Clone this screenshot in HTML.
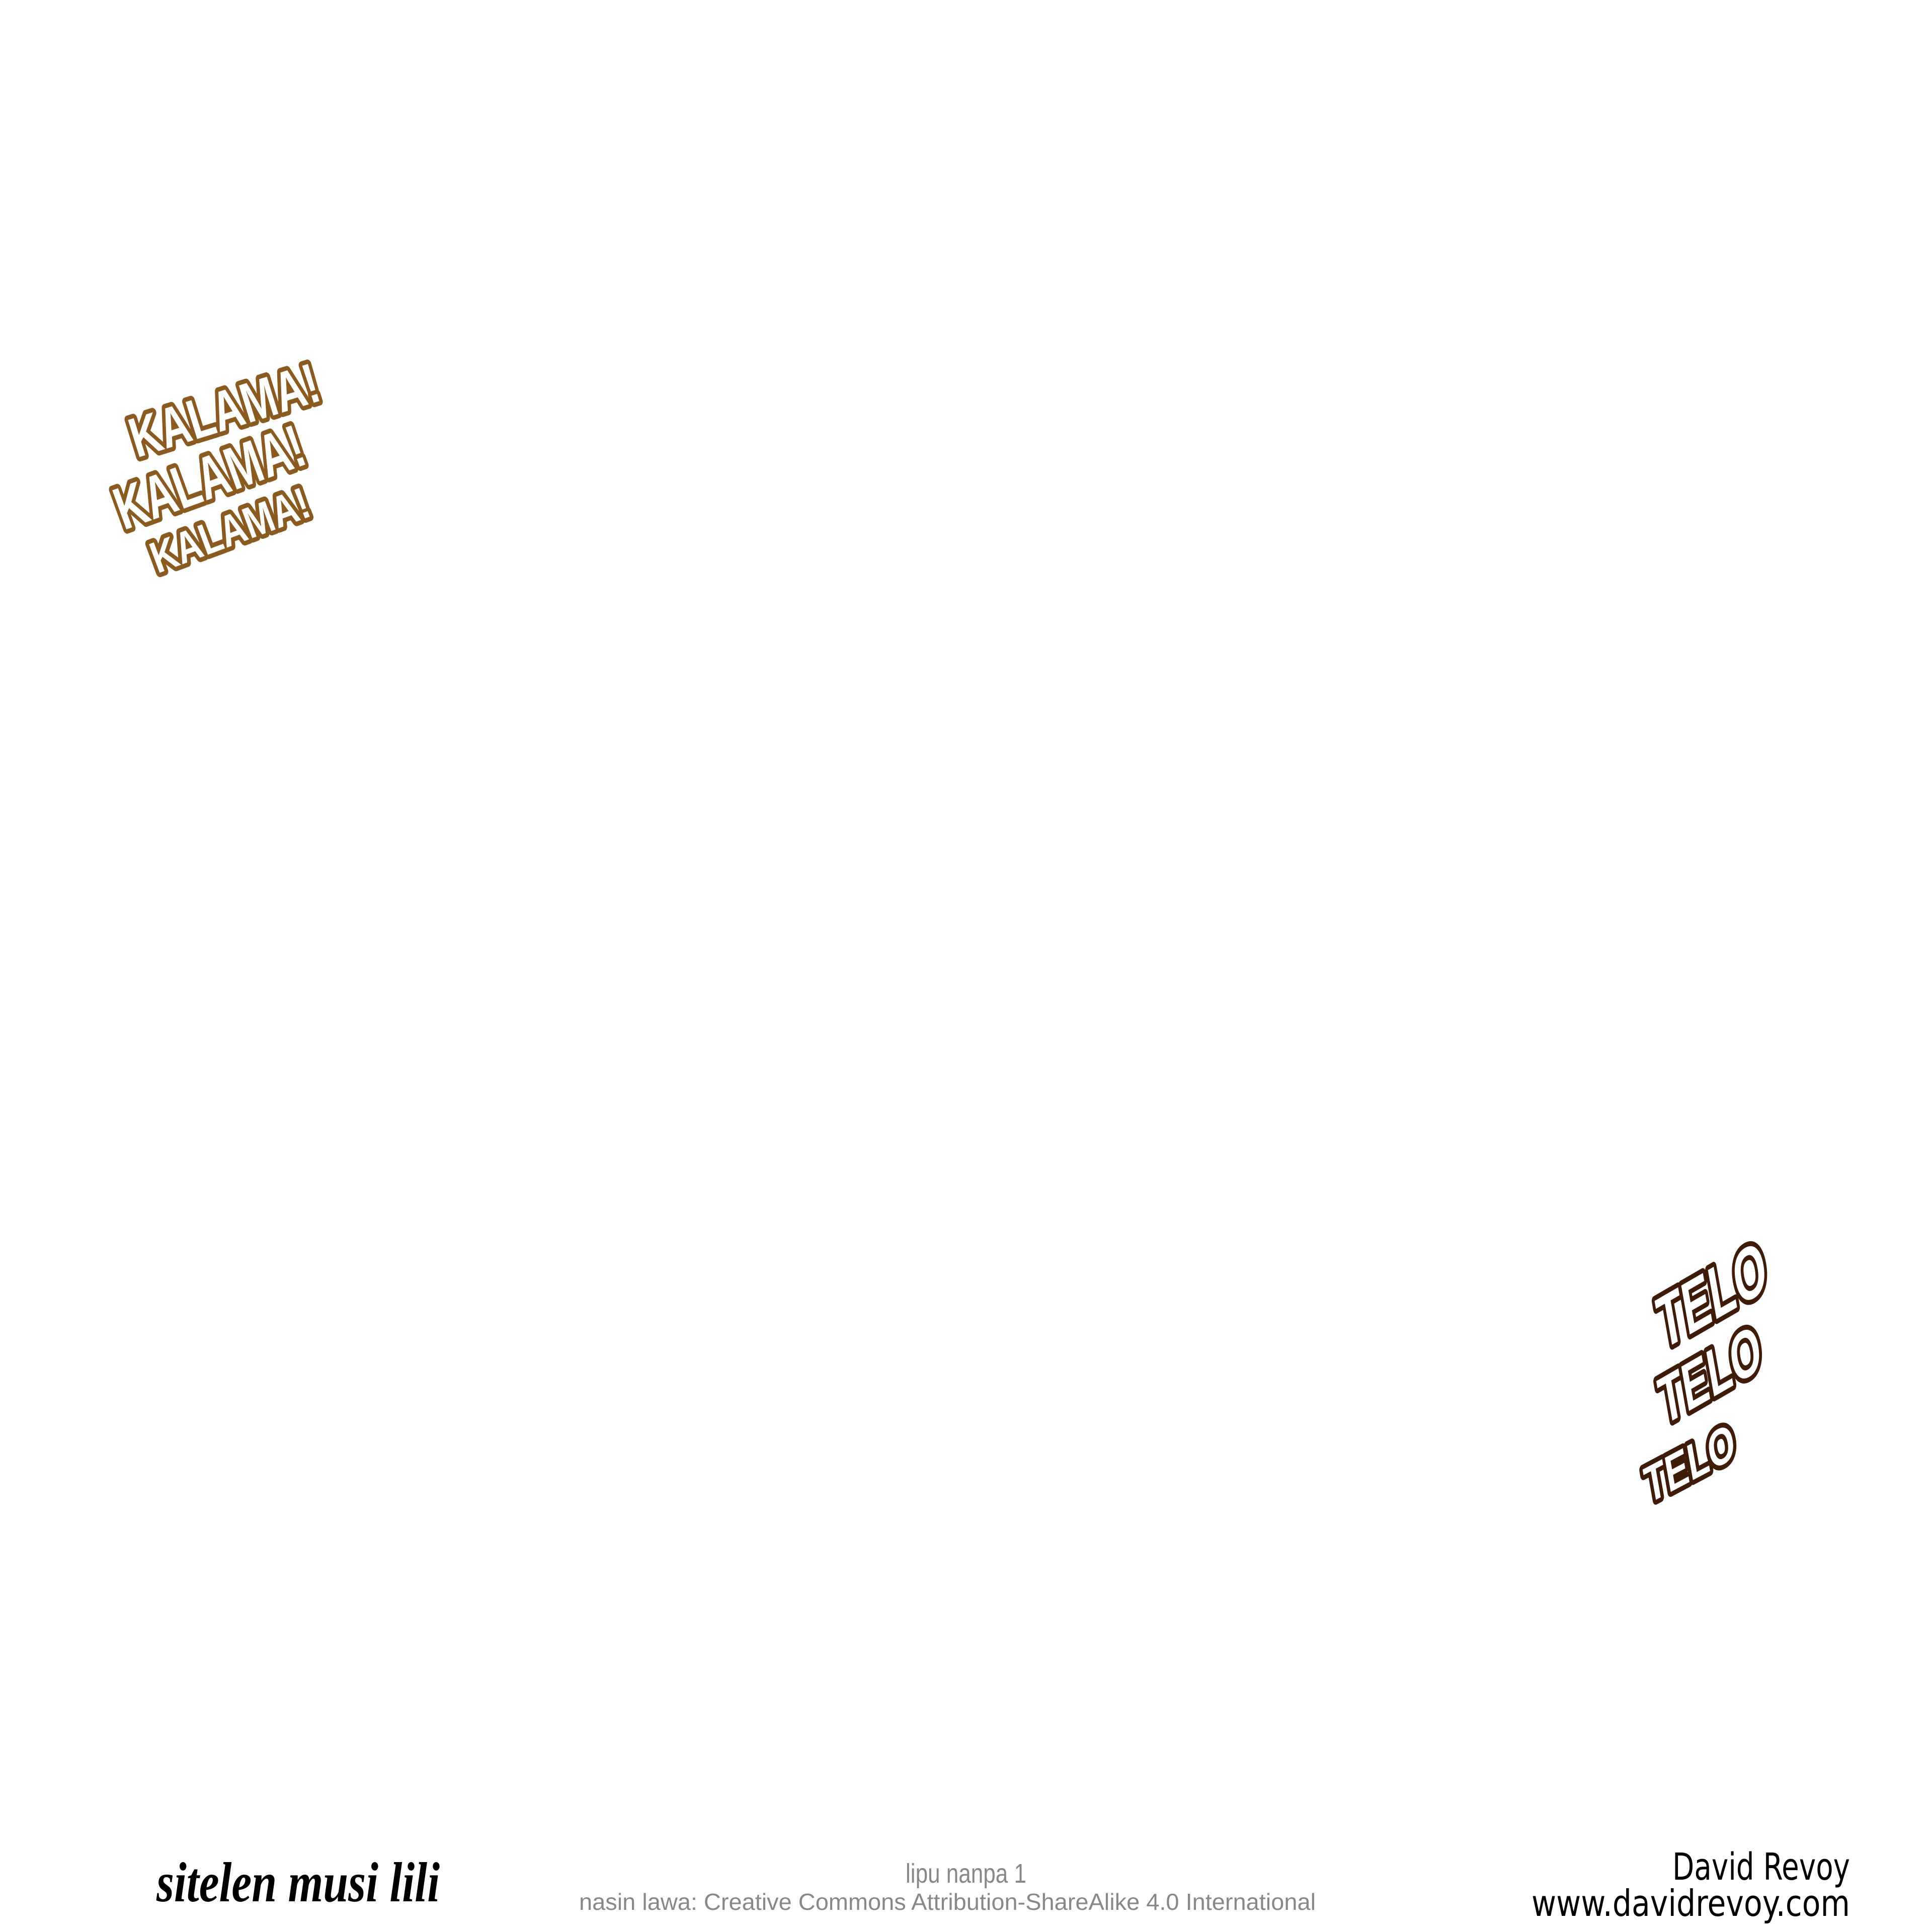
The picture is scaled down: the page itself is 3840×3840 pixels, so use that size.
<!DOCTYPE html>
<html>
<head>
<meta charset="utf-8">
<style>
  html, body { margin: 0; padding: 0; background: #ffffff; }
  body { width: 3840px; height: 3840px; overflow: hidden; }
  svg { display: block; }
</style>
</head>
<body>
<svg xmlns="http://www.w3.org/2000/svg" width="3840" height="3840" viewBox="0 0 3840 3840">
  <rect x="0" y="0" width="3840" height="3840" fill="#ffffff"/>

  <!-- KALAMA! sound effects (upper left) -->
  <g font-family="'Liberation Sans', 'DejaVu Sans', sans-serif" font-weight="bold"
     fill="#ffffff" stroke="#8b5a1e" stroke-width="18" stroke-linejoin="round" paint-order="stroke fill">
    <text x="0" y="0" font-size="112" textLength="388" lengthAdjust="spacingAndGlyphs"
          transform="translate(272,910) rotate(-17.3)">KALAMA!</text>
    <text x="0" y="0" font-size="120" textLength="392" lengthAdjust="spacingAndGlyphs"
          transform="translate(246,1054) rotate(-19.9)">KALAMA!</text>
    <text x="0" y="0" font-size="88" textLength="330" lengthAdjust="spacingAndGlyphs"
          transform="translate(313,1140) rotate(-20.5)">KALAMA!</text>
  </g>

  <!-- TELO sound effects (lower right) -->
  <g font-family="'Liberation Sans', 'DejaVu Sans', sans-serif" font-weight="bold"
     fill="#ffffff" stroke="#3e1c08" stroke-width="18" stroke-linejoin="round" paint-order="stroke fill"
     text-anchor="middle">
    <text x="0" y="48" font-size="135" textLength="245" lengthAdjust="spacingAndGlyphs"
          transform="translate(3402,2572) rotate(-30) skewX(-20)">TELO</text>
    <text x="0" y="44" font-size="122" textLength="230" lengthAdjust="spacingAndGlyphs"
          transform="translate(3398,2730) rotate(-30) skewX(-20)">TELO</text>
    <text x="0" y="34" font-size="95" textLength="200" lengthAdjust="spacingAndGlyphs"
          transform="translate(3358,2907) rotate(-28) skewX(-18)">TELO</text>
  </g>

  <!-- Footer -->
  <text x="311" y="3779" font-family="'Liberation Serif', 'DejaVu Serif', serif" font-style="italic" font-weight="bold"
        font-size="112" fill="#000000" textLength="563" lengthAdjust="spacingAndGlyphs">sitelen musi lili</text>

  <text x="1920" y="3742" text-anchor="middle" font-family="'Liberation Sans', 'DejaVu Sans', sans-serif"
        font-size="54" fill="#8a8886" textLength="240" lengthAdjust="spacingAndGlyphs">lipu nanpa 1</text>
  <text x="1883" y="3796" text-anchor="middle" font-family="'Liberation Sans', 'DejaVu Sans', sans-serif"
        font-size="46" fill="#8a8886" textLength="1464" lengthAdjust="spacingAndGlyphs">nasin lawa: Creative Commons Attribution-ShareAlike 4.0 International</text>

  <text x="3677" y="3736" text-anchor="end" font-family="'DejaVu Sans', 'Liberation Sans', sans-serif"
        font-size="74" fill="#000000" textLength="353" lengthAdjust="spacingAndGlyphs">David Revoy</text>
  <text x="3677" y="3808" text-anchor="end" font-family="'DejaVu Sans', 'Liberation Sans', sans-serif"
        font-size="72" fill="#000000" textLength="633" lengthAdjust="spacingAndGlyphs">www.davidrevoy.com</text>
</svg>
</body>
</html>
